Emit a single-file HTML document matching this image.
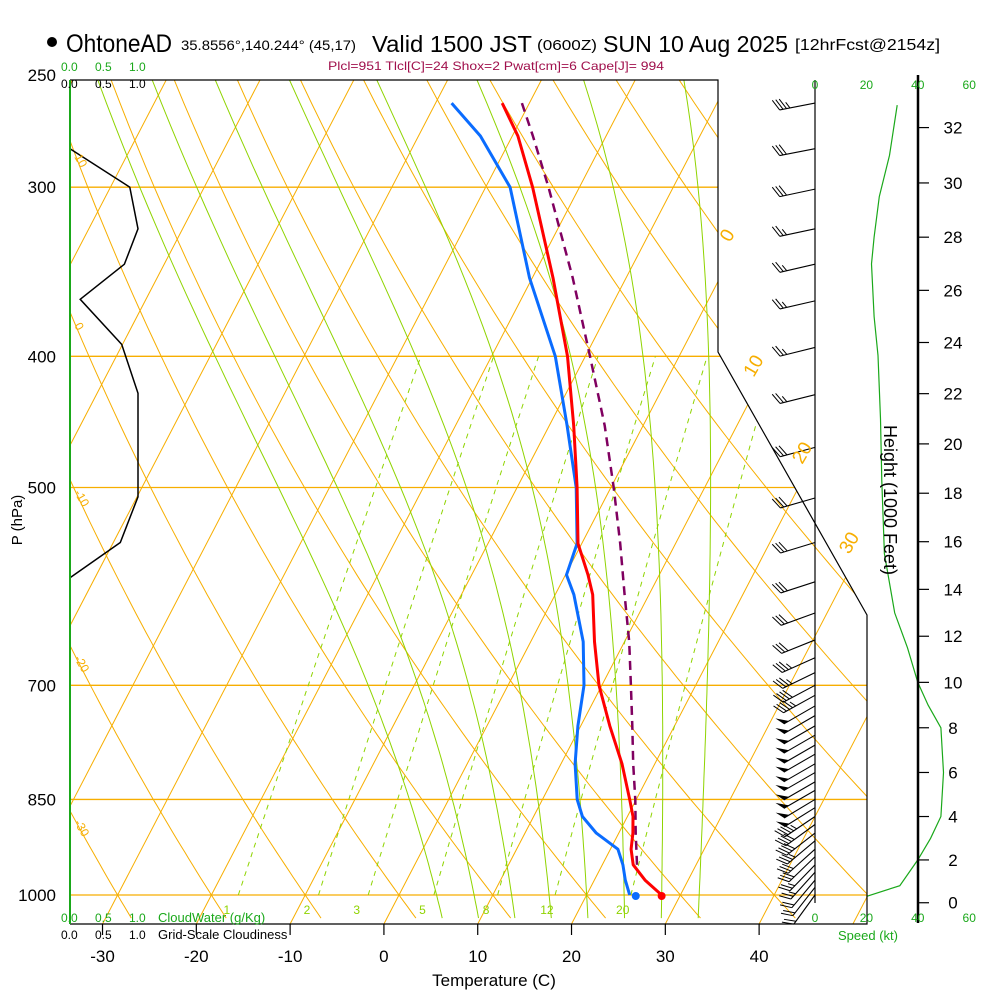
<!DOCTYPE html>
<html><head><meta charset="utf-8">
<style>
html,body{margin:0;padding:0;background:#fff;}
svg{display:block;font-family:"Liberation Sans",Arial,sans-serif;}
</style></head>
<body>
<svg id="chart" width="1000" height="1000" viewBox="0 0 1000 1000" xmlns="http://www.w3.org/2000/svg">
<defs>
<clipPath id="plotclip"><polygon points="70,80 718,80 718,352 867,615 867,924 70,924"/></clipPath>
</defs>
<rect x="0" y="0" width="1000" height="1000" fill="#fff"/>
<g>
<circle cx="52" cy="42" r="5" fill="#000"/>
<text x="66" y="52" font-size="25" textLength="106" lengthAdjust="spacingAndGlyphs">OhtoneAD</text>
<text x="181" y="50" font-size="14" textLength="175" lengthAdjust="spacingAndGlyphs">35.8556°,140.244° (45,17)</text>
<text x="372" y="52" font-size="23" textLength="160" lengthAdjust="spacingAndGlyphs">Valid 1500 JST</text>
<text x="537" y="50" font-size="15" textLength="60" lengthAdjust="spacingAndGlyphs">(0600Z)</text>
<text x="603" y="52" font-size="23" textLength="185" lengthAdjust="spacingAndGlyphs">SUN 10 Aug 2025</text>
<text x="795" y="50" font-size="16" textLength="145" lengthAdjust="spacingAndGlyphs">[12hrFcst@2154z]</text>
<text x="328" y="70" font-size="12" fill="#a0104c" textLength="336" lengthAdjust="spacingAndGlyphs">Plcl=951 Tlcl[C]=24 Shox=2 Pwat[cm]=6 Cape[J]= 994</text>
</g>
<g id="grid" clip-path="url(#plotclip)"></g>
<g id="series"></g>
<g id="frame">
<polyline points="70,80 718,80 718,352 867,615 867,924 70,924" fill="none" stroke="#000" stroke-width="1.2"/>
<line x1="70" y1="80" x2="70" y2="924" stroke="#1aa81a" stroke-width="2"/>
<line x1="815" y1="80" x2="815" y2="903" stroke="#000" stroke-width="1.2"/>
<line x1="918" y1="75" x2="918" y2="923" stroke="#000" stroke-width="2.5"/>
</g>
<g id="axes"></g>
</svg>
<script>
// ---- data ----
const soundP = [1000,975,950,925,900,875,850,800,750,700,650,600,580,550,500,450,400,350,300,275,260];
const tempC  = [28.0,25.4,23.3,22.2,21.5,20.6,19.3,16.5,13.1,9.7,6.8,4.0,2.4,-0.4,-3.6,-7.4,-11.9,-17.8,-25.0,-29.4,-32.9];
const dewC   = [24.6,23.3,22.2,20.8,17.6,15.2,13.7,11.5,9.7,8.1,5.6,2.0,0.1,-0.5,-3.7,-8.1,-13.2,-20.3,-27.4,-33.4,-38.3];
const parcelP = [950,900,850,800,750,700,650,600,550,500,450,400,350,300,275,260];
const parcelT = [23.7,21.8,19.9,17.7,15.5,13.1,10.5,7.4,4.1,0.3,-4.1,-9.5,-15.7,-23.3,-27.8,-30.8];
const cloudP = [281,300,322,342,363,392,426,485,508,549,583];
const cloudFrac = [0,0.88,1.0,0.8,0.15,0.76,1.0,1.0,1.0,0.74,0];
const windP = [260,281,301,322,342,364,394,427,467,509,549,587,619,648,668,685,700,712,725,737,750,762,775,787,800,812,825,837,850,862,875,887,900,912,925,937,950,962,975,987,1000];
const windDir = [259,259,258,258,257,257,256,256,255,254,253,252,250,248,246,244,242,241,240,240,240,240,240,240,240,240,240,240,239,238,236,234,232,230,228,226,224,222,220,218,216];
const windSpd = [33,30,28,26,25,25,25,27,28,28,29,30,31,32,33,36,40,45,48,50,50,51,51,52,52,51,50,50,50,48,45,42,40,35,30,28,26,24,22,21,20];
const speedHt = [0.3,0.8,2,3,4,6,8,9,10,11.5,13,15.5,18.5,21,23.5,25,27,28,29.5,31,32.8];
const speedKt = [20,33,40,45,49,50,49,44,40,36,31,27,26,25.5,24.5,23,22,23,25,29,32];
const isobars = [300,400,500,700,850,1000];
const pLabels = [250,300,400,500,700,850,1000];
const tempTicks = [-30,-20,-10,0,10,20,30,40];
const mixRatios = [1,2,3,5,8,12,20];
const moistThetaW = [4,8,12,16,20,24,28,32];
const isoLabels = [0,10,20,30];
const thetaLabels = [10,0,-10,-20,-30];
const heightTicks = [0,2,4,6,8,10,12,14,16,18,20,22,24,26,28,30,32];
const speedTicks = [0,20,40,60];

// ---- axis functions ----
const NS="http://www.w3.org/2000/svg";
function yP(p){return 80+587.9*Math.log(p/250);}
function xT(T,y){return 399+9.38*T+0.52*(895-y);}
function xCloud(f){return 70+68*f;}
function xSpd(s){return 815+2.57*s;}
function yHt(kft){const z=kft*(1+0.008*Math.pow(kft/32,2))*1000;const p=1013.25*Math.pow(1-z/145366.45,1/0.190284);return yP(p);}
function el(tag,attrs,parent){const e=document.createElementNS(NS,tag);for(const k in attrs)e.setAttribute(k,attrs[k]);parent.appendChild(e);return e;}
const grid=document.getElementById('grid'), series=document.getElementById('series'), axes=document.getElementById('axes');
const ORANGE="#f7ae00", GREEN="#8fd400";

for(const p of isobars){const y=yP(p);
 const l=el('line',{x1:70,y1:y,x2:867,y2:y,stroke:ORANGE,'stroke-width':1.3},grid);
 
 }
for(let T=-120;T<=60;T+=10){
 const l=el('line',{x1:xT(T,924),y1:924,x2:xT(T,80),y2:80,stroke:ORANGE,'stroke-width':1},grid);
 
 }
for(let th=-40;th<=170;th+=10){let pts=[];
 for(let p=1040;p>=245;p-=10){const T=(th+273.15)*Math.pow(p/1000,0.2857)-273.15;const y=yP(p);pts.push(xT(T,y).toFixed(1)+','+y.toFixed(1));}
 const l=el('polyline',{points:pts.join(' '),fill:'none',stroke:ORANGE,'stroke-width':1},grid);
 
 }
function es(Tc){return 6.112*Math.exp(17.67*Tc/(Tc+243.5));}
function lapse(T,p){const e=es(T-273.15);const rs=0.622*e/(p-e);const Rd=287,Cp=1005,Lv=2.5e6;return (Rd*T+Lv*rs)/(p*(Cp+Lv*Lv*rs*0.622/(Rd*T*T)));}
for(const tw of moistThetaW){
 let Tb=tw+273.15;for(let q=1000;q<1040;q+=2){Tb+=lapse(Tb,q)*2;}
 let T=Tb,pts=[];
 for(let p=1040;p>=245;p-=2){const y=yP(p);if(p%10===0)pts.push(xT(T-273.15,y).toFixed(1)+','+y.toFixed(1));T-=lapse(T,p)*2;}
 const l=el('polyline',{points:pts.join(' '),fill:'none',stroke:GREEN,'stroke-width':1},grid);
 
 }
for(const w of mixRatios){let pts=[];
 for(let p=1000;p>=400;p-=10){const e=w*p/(622+w);const a=Math.log(e/6.112);const T=243.5*a/(17.67-a);const y=yP(p);pts.push(xT(T,y).toFixed(1)+','+y.toFixed(1));}
 const l=el('polyline',{points:pts.join(' '),fill:'none',stroke:GREEN,'stroke-width':1,'stroke-dasharray':'5,5'},grid);
 
 
 const e0=w*1000/(622+w);const a0=Math.log(e0/6.112);const T0=243.5*a0/(17.67-a0);
 const t=el('text',{x:xT(T0,912)-6,y:914,'font-size':12,fill:GREEN},axes);t.textContent=w;
 
 }
for(const T of isoLabels){const y=[243,378,465,555][isoLabels.indexOf(T)];
 const x=xT(T,y)-8;
 const t=el('text',{x:x,y:y,'font-size':19,fill:ORANGE,transform:'rotate(-60 '+x+' '+y+')'},axes);t.textContent=T;
 
 }
for(const th of thetaLabels){
 let yy=null;for(let p=250;p<=1040;p+=1){const T=(th+273.15)*Math.pow(p/1000,0.2857)-273.15;const y=yP(p);if(xT(T,y)>=74){yy=y;break;}}
 if(yy===null)continue;
 const t=el('text',{x:74,y:yy+4,'font-size':12,fill:ORANGE,transform:'rotate(60 74 '+(yy+4)+')'},axes);t.textContent=th;
 
 }

function profile(P,T){return P.map((p,i)=>{const y=yP(p);return xT(T[i],y).toFixed(1)+','+y.toFixed(1);}).join(' ');}
let s=el('polyline',{points:profile(parcelP,parcelT),fill:'none',stroke:'#800060','stroke-width':2.5,'stroke-dasharray':'9,6'},series);


s=el('polyline',{points:profile(soundP,dewC),fill:'none',stroke:'#0a6cff','stroke-width':3,'stroke-linejoin':'round'},series);


s=el('polyline',{points:profile(soundP,tempC),fill:'none',stroke:'#ff0000','stroke-width':3,'stroke-linejoin':'round'},series);


let d=el('circle',{cx:xT(dewC[0],yP(soundP[0]))+6,cy:yP(soundP[0])+1,r:4,fill:'#0a6cff'},series);


d=el('circle',{cx:xT(tempC[0],yP(soundP[0])),cy:yP(soundP[0])+1,r:4,fill:'#ff0000'},series);


s=el('polyline',{points:cloudP.map((p,i)=>xCloud(cloudFrac[i]).toFixed(1)+','+yP(p).toFixed(1)).join(' '),fill:'none',stroke:'#000','stroke-width':1.5},series);


s=el('polyline',{points:speedHt.map((h,i)=>xSpd(speedKt[i]).toFixed(1)+','+yHt(h).toFixed(1)).join(' '),fill:'none',stroke:'#1aa81a','stroke-width':1.2},series);


windP.forEach((p,i)=>{
 const g=el('g',{},series);
 
 
 const y0=yP(p),x0=815,L=36,rad=windDir[i]*Math.PI/180;
 const ux=Math.sin(rad),uy=-Math.cos(rad);
 const tx=x0+ux*L,ty=y0+uy*L;
 el('line',{x1:x0,y1:y0,x2:tx,y2:ty,stroke:'#000','stroke-width':1.1},g);
 const fx=0.45*ux+0.9*(-uy), fy=0.45*uy+0.9*(ux);
 let spd=Math.round(windSpd[i]/5)*5,pos=0;
 while(spd>=50){const bx=tx-ux*pos,by=ty-uy*pos;
  el('polygon',{points:`${bx},${by} ${bx-ux*6},${by-uy*6} ${bx+fx*10},${by+fy*10}`,fill:'#000'},g);pos+=8;spd-=50;}
 while(spd>=10){const bx=tx-ux*pos,by=ty-uy*pos;el('line',{x1:bx,y1:by,x2:bx+fx*12,y2:by+fy*12,stroke:'#000','stroke-width':1},g);pos+=3.5;spd-=10;}
 if(spd>=5){const bx=tx-ux*pos,by=ty-uy*pos;el('line',{x1:bx,y1:by,x2:bx+fx*7,y2:by+fy*7,stroke:'#000','stroke-width':1},g);}
});

for(const p of pLabels){const t=el('text',{x:56,y:yP(p)+(p===250?1:6),'font-size':17,'text-anchor':'end'},axes);t.textContent=p;
 
 }
for(const T of tempTicks){const x=xT(T,924);
 const l=el('line',{x1:x,y1:924,x2:x,y2:935,stroke:'#000','stroke-width':1.2},axes);
 
 
 const t=el('text',{x:x,y:962,'font-size':17,'text-anchor':'middle'},axes);t.textContent=T;
 
 }
for(const h of heightTicks){const y=yHt(h);
 const l=el('line',{x1:918,y1:y,x2:929,y2:y,stroke:'#000','stroke-width':1.2},axes);
 
 
 const t=el('text',{x:953,y:y+6,'font-size':17,'text-anchor':'middle'},axes);t.textContent=h;
 
 }
for(const sp of speedTicks){for(const yy of [89,922]){
 const t=el('text',{x:xSpd(sp),y:yy,'font-size':12,'text-anchor':'middle',fill:'#1aa81a'},axes);t.textContent=sp;
 
 }}
const misc=[
 ['cloudwater-scale-top',61,71,'0.0',12,'#1aa81a'],['cloudwater-scale-top',95,71,'0.5',12,'#1aa81a'],['cloudwater-scale-top',129,71,'1.0',12,'#1aa81a'],
 ['cloudiness-scale-top',61,88,'0.0',12,'#000'],['cloudiness-scale-top',95,88,'0.5',12,'#000'],['cloudiness-scale-top',129,88,'1.0',12,'#000'],
 ['cloudwater-scale-bottom',61,922,'0.0',12,'#1aa81a'],['cloudwater-scale-bottom',95,922,'0.5',12,'#1aa81a'],['cloudwater-scale-bottom',129,922,'1.0',12,'#1aa81a'],
 ['cloudwater-title',158,922,'CloudWater (g/Kg)',13,'#1aa81a'],
 ['cloudiness-scale-bottom',61,939,'0.0',12,'#000'],['cloudiness-scale-bottom',95,939,'0.5',12,'#000'],['cloudiness-scale-bottom',129,939,'1.0',12,'#000'],
 ['cloudiness-title',158,939,'Grid-Scale Cloudiness',13,'#000'],
 ['speed-axis-title',838,940,'Speed (kt)',13,'#1aa81a']];
for(const m of misc){const t=el('text',{x:m[1],y:m[2],'font-size':m[4],fill:m[5]},axes);t.textContent=m[3];
 
 }
let tt=el('text',{x:494,y:986,'font-size':17,'text-anchor':'middle'},axes);tt.textContent='Temperature (C)';


tt=el('text',{x:22,y:520,'font-size':15,'text-anchor':'middle',transform:'rotate(-90 22 520)'},axes);tt.textContent='P (hPa)';


tt=el('text',{x:884,y:500,'font-size':18,'text-anchor':'middle',transform:'rotate(90 884 500)'},axes);tt.textContent='Height (1000 Feet)';


</script>
</body></html>
